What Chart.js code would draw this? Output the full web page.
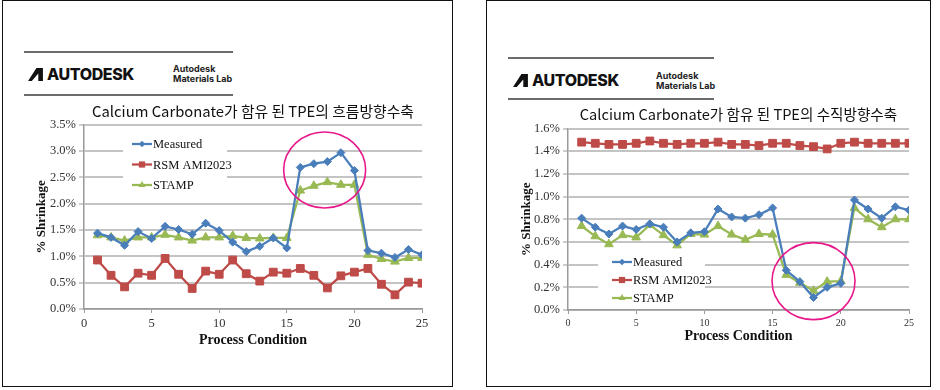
<!DOCTYPE html>
<html>
<head>
<meta charset="utf-8">
<script src="https://cdn.jsdelivr.net/npm/chart.js@4"></script>
<style>
  body { margin: 0; background: #fff; width: 940px; height: 390px; position: relative; overflow: hidden; }
  .panel { position: absolute; top: 0; height: 387px; border: 1.5px solid #111; box-sizing: border-box; }
  .hline { position: absolute; height: 2px; background: #6b6b6b; }
  .logo { position: absolute; display: flex; align-items: center; font-family: Inter, "Liberation Sans", sans-serif; font-weight: 800; font-size: 16px; letter-spacing: -0.4px; color: #111; }
  .logo svg { margin-right: 4px; }
  .lab { position: absolute; font-family: Inter, "Liberation Sans", sans-serif; font-weight: 700; font-size: 9px; line-height: 10px; color: #222; }
  canvas { position: absolute; }
</style>
</head>
<body>
<div class="panel" style="left:2px; width:451px;"></div>
<div class="panel" style="left:486px; width:445px;"></div>

<div class="hline" style="left:24px; top:51px; width:209px;"></div>
<div class="hline" style="left:24px; top:94px; width:209px;"></div>
<div class="logo" style="left:28px; top:64px;">
  <svg width="15" height="13" viewBox="0 0 16 14"><polygon points="0,14 9,0 16,0 16,14 11,14 11,6 4,14" fill="#111"/></svg>AUTODESK</div>
<div class="lab" style="left:173px; top:64px;">Autodesk<br>Materials Lab</div>

<div class="hline" style="left:508px; top:57px; width:206px;"></div>
<div class="hline" style="left:508px; top:98px; width:206px;"></div>
<div class="logo" style="left:513px; top:70px;">
  <svg width="15" height="13" viewBox="0 0 16 14"><polygon points="0,14 9,0 16,0 16,14 11,14 11,6 4,14" fill="#111"/></svg>AUTODESK</div>
<div class="lab" style="left:656px; top:71px;">Autodesk<br>Materials Lab</div>

<canvas id="flowChart" width="449" height="288" style="left:3px; top:98px;"></canvas>
<canvas id="crossChart" width="440" height="287" style="left:488px; top:100px;"></canvas>

<script>
// process conditions 1..25
const conditions = [1,2,3,4,5,6,7,8,9,10,11,12,13,14,15,16,17,18,19,20,21,22,23,24,25];
const seriesNames = ['Measured', 'RSM AMI2023', 'STAMP'];
const xTicks = [0,5,10,15,20,25];

// flow direction shrinkage (%)
const flowMeasured = [1.44,1.36,1.21,1.47,1.34,1.57,1.51,1.42,1.63,1.49,1.27,1.09,1.19,1.35,1.16,2.69,2.76,2.80,2.97,2.63,1.11,1.06,0.98,1.13,1.03];
const flowRsm = [0.93,0.64,0.42,0.68,0.64,0.96,0.66,0.39,0.72,0.66,0.93,0.67,0.53,0.70,0.68,0.77,0.64,0.40,0.63,0.70,0.77,0.47,0.27,0.51,0.49];
const flowStamp = [1.40,1.36,1.30,1.36,1.36,1.41,1.36,1.30,1.36,1.36,1.39,1.35,1.34,1.35,1.35,2.25,2.34,2.41,2.36,2.36,1.03,0.95,0.90,0.97,0.97];
const flowYTicks = [0,0.5,1.0,1.5,2.0,2.5,3.0,3.5];

// cross direction shrinkage (%)
const crossMeasured = [0.81,0.73,0.67,0.74,0.71,0.76,0.73,0.60,0.68,0.69,0.89,0.82,0.81,0.84,0.90,0.35,0.25,0.11,0.20,0.235,0.97,0.89,0.81,0.91,0.88];
const crossRsm = [1.48,1.47,1.46,1.46,1.47,1.49,1.47,1.46,1.47,1.47,1.48,1.46,1.46,1.45,1.47,1.47,1.45,1.44,1.42,1.47,1.48,1.47,1.47,1.47,1.47];
const crossStamp = [0.74,0.65,0.58,0.66,0.64,0.75,0.66,0.57,0.67,0.665,0.74,0.665,0.62,0.67,0.665,0.31,0.24,0.17,0.25,0.255,0.90,0.80,0.73,0.80,0.80];
const crossYTicks = [0,0.2,0.4,0.6,0.8,1.0,1.2,1.4,1.6];

const styles = [
    { color: '#4a7ebb', pointStyle: 'rectRot', radius: 4 },
    { color: '#be4b48', pointStyle: 'rect', radius: 5.5 },
    { color: '#98b954', pointStyle: 'triangle', radius: 5 }
];

function toPoints(values) {
    return values.map((v, i) => ({ x: conditions[i], y: v }));
}

function makeDataset(name, values, i) {
    const s = styles[i];
    return {
        label: name,
        data: toPoints(values),
        borderColor: s.color,
        backgroundColor: s.color,
        borderWidth: 2.25,
        pointStyle: s.pointStyle,
        pointRadius: s.radius,
        pointHoverRadius: s.radius,
        pointBorderWidth: 1,
        tension: 0
    };
}

function drawMarker(ctx, style, x, y, r) {
    ctx.beginPath();
    if (style === 'rectRot') {
        ctx.moveTo(x, y - r); ctx.lineTo(x + r, y); ctx.lineTo(x, y + r); ctx.lineTo(x - r, y);
    } else if (style === 'rect') {
        const h = r * Math.SQRT1_2;
        ctx.rect(x - h, y - h, 2 * h, 2 * h);
    } else {
        const h = r * 0.866;
        ctx.moveTo(x, y - r); ctx.lineTo(x + h, y + r / 2); ctx.lineTo(x - h, y + r / 2);
    }
    ctx.closePath();
    ctx.fill();
}

// legend drawn inside the plot, on a white box that hides the grid
const insideLegend = {
    id: 'insideLegend',
    beforeDatasetsDraw(chart, args, opts) {
        const ctx = chart.ctx;
        ctx.save();
        ctx.fillStyle = '#fff';
        ctx.fillRect(opts.box[0], opts.box[1], opts.box[2], opts.box[3]);
        ctx.font = '12.5px "Liberation Serif", serif';
        ctx.textBaseline = 'middle';
        chart.data.datasets.forEach((ds, i) => {
            const y = opts.y + i * opts.gap;
            const s = styles[i];
            ctx.strokeStyle = s.color;
            ctx.fillStyle = s.color;
            ctx.lineWidth = 2.25;
            ctx.beginPath();
            ctx.moveTo(opts.x, y);
            ctx.lineTo(opts.x + 20, y);
            ctx.stroke();
            drawMarker(ctx, s.pointStyle, opts.x + 10, y, s.radius * 0.8);
            ctx.fillStyle = '#111';
            ctx.fillText(ds.label, opts.x + 21, y + 1);
        });
        ctx.restore();
    }
};

// highlight ellipse, centred in data units
const ringMark = {
    id: 'ringMark',
    afterDatasetsDraw(chart, args, opts) {
        const ctx = chart.ctx;
        const cx = chart.scales.x.getPixelForValue(opts.cx);
        const cy = chart.scales.y.getPixelForValue(opts.cy);
        ctx.save();
        ctx.strokeStyle = '#e8178a';
        ctx.lineWidth = 1.6;
        ctx.beginPath();
        ctx.ellipse(cx, cy, opts.rx, opts.ry, 0, 0, Math.PI * 2);
        ctx.stroke();
        ctx.restore();
    }
};

function buildChart(id, title, series, yTicks, yMax, o) {
    const ctx = document.getElementById(id).getContext('2d');
    return new Chart(ctx, {
        type: 'line',
        data: { datasets: series.map((v, i) => makeDataset(seriesNames[i], v, i)) },
        plugins: [insideLegend, ringMark],
        options: {
            responsive: false,
            animation: false,
            layout: { padding: { left: o.padLeft, right: o.padRight, top: 0, bottom: 0 } },
            plugins: {
                legend: { display: false },
                tooltip: { enabled: false },
                title: {
                    display: true,
                    text: title,
                    fullSize: false,
                    color: '#111',
                    font: { family: '"Noto Sans CJK KR", "Noto Sans", sans-serif', size: o.titleSize, weight: 'normal' },
                    padding: { top: o.titleTop, bottom: o.titleBottom }
                },
                insideLegend: o.legend,
                ringMark: o.ring
            },
            scales: {
                x: {
                    type: 'linear',
                    min: 0, max: 25,
                    afterBuildTicks: s => { s.ticks = xTicks.map(v => ({ value: v })); },
                    afterFit: s => { s.height = o.xHeight; },
                    grid: { display: true, drawOnChartArea: false, drawTicks: true, tickLength: 4, color: '#9a9a9a' },
                    border: { color: '#9a9a9a', width: 1.5 },
                    ticks: { color: '#333', padding: 3, font: { family: '"Liberation Serif", serif', size: o.xTickSize } },
                    title: {
                        display: true, text: 'Process Condition', color: '#111',
                        font: { family: '"Liberation Serif", serif', size: 14, weight: 'bold' },
                        padding: { top: 0, bottom: o.xTitlePad }
                    }
                },
                y: {
                    min: 0, max: yMax,
                    afterBuildTicks: s => { s.ticks = yTicks.map(v => ({ value: v })); },
                    afterFit: s => { s.width = o.yWidth; },
                    grid: { color: '#c4c4c4', lineWidth: 2, tickLength: 5, tickColor: '#9a9a9a', tickWidth: 1 },
                    border: { color: '#9a9a9a', width: 1.5 },
                    ticks: {
                        color: '#333', padding: 3,
                        font: { family: '"Liberation Serif", serif', size: 12.5 },
                        callback: v => v.toFixed(1) + '%'
                    },
                    title: {
                        display: true, text: '% Shrinkage', color: '#111',
                        font: { family: '"Liberation Serif", serif', size: 13, weight: 'bold' },
                        padding: 0
                    }
                }
            }
        }
    });
}

buildChart('flowChart', 'Calcium Carbonate가 함유 된 TPE의 흐름방향수축',
    [flowMeasured, flowRsm, flowStamp], flowYTicks, 3.5, {
        padLeft: 31, padRight: 30, yWidth: 50, xHeight: 77, xTickSize: 12.5, xTitlePad: 37,
        titleSize: 14.8, titleTop: 4, titleBottom: 5,
        legend: { box: [120, 32, 104, 68], x: 129, y: 46, gap: 20.5 },
        ring: { cx: 17.8, cy: 2.64, rx: 41, ry: 38 }
    });

buildChart('crossChart', 'Calcium Carbonate가 함유 된 TPE의 수직방향수축',
    [crossMeasured, crossRsm, crossStamp], crossYTicks, 1.6, {
        padLeft: 31, padRight: 19, yWidth: 49, xHeight: 77, xTickSize: 10, xTitlePad: 42,
        titleSize: 14.6, titleTop: 6, titleBottom: 5,
        legend: { box: [110, 148, 107, 56], x: 124, y: 162, gap: 18 },
        ring: { cx: 18.0, cy: 0.255, rx: 41.5, ry: 38.5 }
    });
</script>
</body>
</html>
